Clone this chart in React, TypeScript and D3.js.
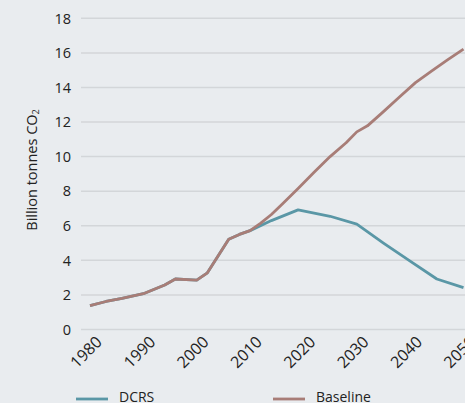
import React from "react";
import * as d3 from "d3";

const baselineYears = [1980, 1983, 1986, 1990, 1994, 1996, 2000, 2002, 2006, 2008, 2010, 2012, 2014, 2016, 2019, 2022, 2025, 2028, 2030, 2032, 2035, 2038, 2041, 2044, 2047, 2050];
const baselineValues = [1.38, 1.62, 1.8, 2.07, 2.57, 2.92, 2.86, 3.28, 5.22, 5.5, 5.72, 6.15, 6.65, 7.25, 8.16, 9.1, 10.0, 10.8, 11.43, 11.78, 12.6, 13.45, 14.28, 14.95, 15.6, 16.22];

const dcrsYears = [1980, 1983, 1986, 1990, 1994, 1996, 2000, 2002, 2006, 2008, 2010, 2014, 2019, 2025, 2030, 2035, 2040, 2045, 2050];
const dcrsValues = [1.38, 1.62, 1.8, 2.07, 2.57, 2.92, 2.86, 3.28, 5.22, 5.5, 5.72, 6.3, 6.92, 6.55, 6.1, 5.0, 3.95, 2.92, 2.42];

const xTicks = [1980, 1990, 2000, 2010, 2020, 2030, 2040, 2050];
const yTicks = [0, 2, 4, 6, 8, 10, 12, 14, 16, 18];

const seriesNames = ["DCRS", "Baseline"];
const seriesColors = ["#5a97a6", "#a87d77"];

export default function App() {
  const W = 465;
  const H = 403;
  const x = d3.scaleLinear().domain([1980, 2050]).range([90, 463.5]);
  const y = d3.scaleLinear().domain([0, 18]).range([329.5, 18.3]);
  const font = "'Open Sans', 'Noto Sans', sans-serif";

  const line = d3
    .line<[number, number]>()
    .x((d) => x(d[0]))
    .y((d) => y(d[1]))
    .curve(d3.curveLinear);

  const base = baselineYears.map((yr, i) => [yr, baselineValues[i]] as [number, number]);
  const dcrs = dcrsYears.map((yr, i) => [yr, dcrsValues[i]] as [number, number]);

  const legendX = [76, 273];

  return (
    <svg
      width={W}
      height={H}
      style={{ position: "absolute", left: 0, top: 0, background: "#e9ecef", fontFamily: font }}
    >
      <rect x={0} y={0} width={W} height={H} fill="#e9ecef" />
      {yTicks.map((t) => (
        <g key={t}>
          <line x1={81} x2={W} y1={y(t)} y2={y(t)} stroke="#d3d6d9" strokeWidth={1.5} />
          <text
            x={71}
            y={y(t)}
            dy="0.36em"
            textAnchor="end"
            style={{ fontSize: "14.5px" }}
            fill="#222"
          >
            {t}
          </text>
        </g>
      ))}
      {xTicks.map((t) => (
        <text
          key={t}
          transform={`translate(${x(t) + 13},${343}) rotate(-45)`}
          textAnchor="end"
          style={{ fontSize: "16px" }}
          fill="#222"
        >
          {t}
        </text>
      ))}
      <text
        transform={`translate(37,170) rotate(-90)`}
        textAnchor="middle"
        style={{ fontSize: "14.5px" }}
        fill="#222"
      >
        Billion tonnes CO
        <tspan style={{ fontSize: "9px" }} dy={2}>2</tspan>
      </text>
      <path d={line(dcrs) || ""} fill="none" stroke={seriesColors[0]} strokeWidth={2.8} strokeLinejoin="round" />
      <path d={line(base) || ""} fill="none" stroke={seriesColors[1]} strokeWidth={2.8} strokeLinejoin="round" />
      {seriesNames.map((n, i) => (
        <g key={n}>
          <line
            x1={legendX[i]}
            x2={legendX[i] + 32}
            y1={399}
            y2={399}
            stroke={seriesColors[i]}
            strokeWidth={2.8}
          />
          <text x={legendX[i] + 43} y={402} style={{ fontSize: "14px" }} fill="#222">
            {n}
          </text>
        </g>
      ))}
    </svg>
  );
}
